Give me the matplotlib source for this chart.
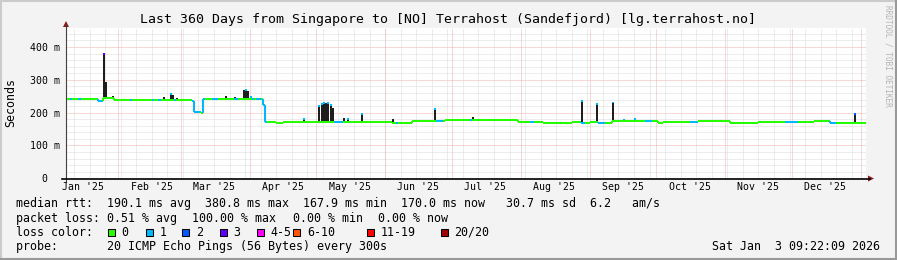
import matplotlib
matplotlib.use("Agg")
import matplotlib.pyplot as plt
import matplotlib.dates as mdates
import numpy as np
import pandas as pd
from matplotlib.lines import Line2D
from matplotlib.patches import Polygon, Rectangle

# median rtt (ms) as steps: each value holds from its date to the next one
med_dates = ["2025-01-08", "2025-01-10", "2025-01-11", "2025-01-14", "2025-01-15",
             "2025-01-23", "2025-01-25", "2025-01-30", "2025-02-06", "2025-02-07",
             "2025-02-16", "2025-02-17", "2025-02-19", "2025-02-20", "2025-02-26",
             "2025-02-27", "2025-03-05", "2025-03-06", "2025-03-07", "2025-03-10",
             "2025-03-11", "2025-03-12", "2025-03-15", "2025-03-18", "2025-03-25",
             "2025-03-27", "2025-04-02", "2025-04-03", "2025-04-04", "2025-04-06",
             "2025-04-07", "2025-04-08", "2025-04-09", "2025-04-13", "2025-04-16",
             "2025-05-01", "2025-05-09", "2025-05-13", "2025-06-04", "2025-06-06",
             "2025-06-07", "2025-06-13", "2025-06-24", "2025-06-27", "2025-06-28",
             "2025-07-09", "2025-07-10", "2025-07-31", "2025-08-05", "2025-08-07",
             "2025-08-11", "2025-08-24", "2025-08-28", "2025-08-30", "2025-09-01",
             "2025-09-05", "2025-09-08", "2025-09-11", "2025-09-26", "2025-09-29",
             "2025-10-02", "2025-10-04", "2025-10-16", "2025-10-20", "2025-11-03",
             "2025-11-16", "2025-11-28", "2025-12-04", "2025-12-11", "2025-12-18",
             "2025-12-21", "2025-12-25"]
med_ms = [243, 243, 243, 243, 243,
          236, 244, 240, 240, 240,
          240, 240, 240, 240, 240,
          240, 240, 236, 202, 200,
          241, 241, 241, 241, 241,
          241, 241, 241, 241, 241,
          222, 172, 172, 170, 173,
          173, 173, 173, 170, 170,
          170, 174, 174, 174, 177,
          177, 177, 173, 173, 173,
          170, 173, 170, 170, 173,
          170, 170, 176, 176, 176,
          170, 173, 172, 175, 170,
          171, 171, 171, 174, 170,
          170, 170]
med_loss = [0, 1, 0, 1, 0,
            1, 0, 0, 1, 0,
            1, 0, 1, 0, 1,
            0, 0, 1, 1, 0,
            1, 0, 1, 0, 1,
            0, 1, 0, 1, 0,
            1, 1, 0, 0, 0,
            0, 1, 0, 0, 1,
            0, 0, 1, 0, 0,
            1, 0, 0, 1, 0,
            0, 0, 1, 0, 0,
            1, 0, 0, 1, 0,
            0, 0, 1, 0, 0,
            0, 1, 0, 0, 1,
            0, 0]

# smoke spikes: date, max rtt (ms), loss bucket at the tip (-1 = none)
spike_dates = ["2025-01-25", "2025-01-26", "2025-01-29", "2025-02-21", "2025-02-24",
               "2025-02-25", "2025-02-27", "2025-03-21", "2025-03-25", "2025-03-29",
               "2025-03-30", "2025-03-31", "2025-04-01", "2025-04-25", "2025-05-02",
               "2025-05-03", "2025-05-04", "2025-05-05", "2025-05-06", "2025-05-07",
               "2025-05-08", "2025-05-13", "2025-05-15", "2025-05-21", "2025-06-04",
               "2025-06-13", "2025-06-23", "2025-07-10", "2025-08-28", "2025-09-04",
               "2025-09-11", "2025-09-16", "2025-09-21", "2025-12-11", "2025-12-29"]
spike_ms = [382, 292, 251, 249, 261,
            255, 246, 252, 248, 268,
            271, 266, 250, 184, 222,
            230, 233, 229, 233, 226,
            215, 185, 185, 198, 181,
            178, 213, 186, 240, 230,
            234, 180, 185, 178, 200]
spike_tip = [3, -1, -1, -1, 1,
             -1, -1, -1, -1, -1,
             1, -1, 1, 1, 1,
             1, 1, -1, 1, 1,
             -1, -1, 1, 1, -1,
             -1, 1, -1, 1, 1,
             1, 1, 1, -1, 2]

loss_labels = ["0", "1", "2", "3", "4-5", "6-10", "11-19", "20/20"]
loss_colors = ["#26ff00", "#00b8ff", "#0059ff", "#5e00ff", "#ff00ff", "#ff5500", "#ff0000", "#a10000"]

rtt_line = "median rtt:  190.1 ms avg  380.8 ms max  167.9 ms min  170.0 ms now   30.7 ms sd  6.2   am/s"
loss_parts = ["packet loss:", "0.51 % avg", "100.00 % max", "0.00 % min", "0.00 % now"]
probe_line = "probe:       20 ICMP Echo Pings (56 Bytes) every 300s"
title = "Last 360 Days from Singapore to [NO] Terrahost (Sandefjord) [lg.terrahost.no]"
stamp = "Sat Jan  3 09:22:09 2026"

W, H = 897, 260
MONO = "DejaVu Sans Mono"
t0 = pd.Timestamp("2025-01-08 09:22:09")
t1 = pd.Timestamp("2026-01-03 09:22:09")

fig = plt.figure(figsize=(W / 100, H / 100), dpi=100)
fig.patch.set_facecolor("#f3f3f3")

# plot area in pixels: x 66..866, y 28..178
L, R, T, B = 66, 866, 28, 178.3
ax = fig.add_axes([L / W, 1 - B / H, (R - L) / W, (B - T) / H])
ax.set_facecolor("white")
for s in ax.spines.values():
    s.set_visible(False)
ax.set_xlim(mdates.date2num(t0), mdates.date2num(t1))
ax.set_ylim(0, 458)
ax.set_xticks([])
ax.set_yticks([])

# grid: minor every 20 ms / every Sunday, major every 100 ms / every month
GMIN, GMAJ = "#dadada", "#f5b0b0"
for v in range(20, 460, 20):
    ax.axhline(v, color=GMAJ if v % 100 == 0 else GMIN, lw=0.72, ls=(0, (1, 1)), zorder=1)
for d in pd.date_range("2025-01-12", t1, freq="7D"):
    ax.axvline(mdates.date2num(d), color=GMIN, lw=0.72, ls=(0, (1, 1)), zorder=1)
for d in pd.date_range("2025-02-01", t1, freq="MS"):
    ax.axvline(mdates.date2num(d), color=GMAJ, lw=0.72, ls=(0, (1, 1)), zorder=1)

# smoke
md = mdates.date2num(pd.to_datetime(med_dates))
md[0] = mdates.date2num(t0)
sd = mdates.date2num(pd.to_datetime(spike_dates))
base = np.array(med_ms)[np.searchsorted(md, sd, side="right") - 1]
ax.bar(sd, np.array(spike_ms) - base, bottom=base, width=0.9, color="#1e1e1e",
       align="edge", zorder=3)
for x, top, tip in zip(sd, spike_ms, spike_tip):
    if tip >= 0:
        ax.plot([x + 0.45, x + 0.45], [top - 6, top], color=loss_colors[tip],
                lw=1.5, solid_capstyle="butt", zorder=4)

# median line coloured by loss
xe = list(md) + [mdates.date2num(t1)]
for i, (v, lo) in enumerate(zip(med_ms, med_loss)):
    c = loss_colors[lo]
    ax.plot([xe[i], xe[i + 1]], [v, v], color=c, lw=1.45, solid_capstyle="butt", zorder=5)
    if i > 0 and med_ms[i - 1] != v:
        ax.plot([xe[i], xe[i]], [med_ms[i - 1], v], color=c, lw=1.45,
                solid_capstyle="butt", zorder=5)


def px(x, y):
    return x / W, 1 - y / H


# axis lines with arrows
fig.add_artist(Line2D(*zip(px(66, 182), px(66, 24)), color="#404040", lw=0.8))
fig.add_artist(Line2D(*zip(px(62, 178.5), px(870, 178.5)), color="black", lw=1.2))
fig.add_artist(Polygon([px(63, 27), px(69, 27), px(66, 21)], closed=True,
                       color="#8b1a1a", lw=0))
fig.add_artist(Polygon([px(868, 175.5), px(868, 181.5), px(874, 178.5)], closed=True,
                       color="#8b1a1a", lw=0))

# tick labels
for v in range(0, 401, 100):
    lab = f"{v} m" if v else "0  "
    y = B - v / 458 * (B - T)
    fig.text(*px(60, y), lab, family=MONO, size=7.1, ha="right", va="center_baseline")
span = mdates.date2num(t1) - mdates.date2num(t0)
for m in pd.date_range("2025-01-01", "2025-12-01", freq="MS"):
    d = m + pd.Timedelta(days=15)
    xf = (mdates.date2num(d) - mdates.date2num(t0)) / span
    fig.text(*px(L + xf * (R - L), 190.5), d.strftime("%b '%y"), family=MONO,
             size=7.1, ha="center", va="baseline")

fig.text(*px(10.5, 103), "Seconds", family=MONO, size=8.4, rotation=90,
         ha="center", va="center")
fig.text(*px(448, 19.5), title, family=MONO, size=9.5, ha="center", va="center")
fig.text(*px(888, 5), "RRDTOOL / TOBI OETIKER", family=MONO, size=5.6, color="#b4b4b4",
         rotation=270, ha="center", va="top")

# legend rows
fig.text(*px(16, 207.5), rtt_line, family=MONO, size=8.4, ha="left", va="baseline")
for s, x in zip(loss_parts, [16, 106.5, 192, 292.5, 378.5]):
    fig.text(*px(x, 221.6), s, family=MONO, size=8.4, ha="left", va="baseline")
fig.text(*px(16, 235.8), "loss color:", family=MONO, size=8.4, ha="left", va="baseline")
box_x = [107.3, 145, 181.7, 219, 256, 292.7, 366.7, 440]
for bx, lab, c in zip(box_x, loss_labels, loss_colors):
    fig.add_artist(Rectangle(px(bx + 0.5, 236), 7.2 / W, 7.2 / H, facecolor=c,
                             edgecolor="black", lw=0.75))
    fig.text(*px(bx + 14.3, 235.8), lab, family=MONO, size=8.4, ha="left", va="baseline")
fig.text(*px(16, 249.6), probe_line, family=MONO, size=8.4, ha="left", va="baseline")
fig.text(*px(880, 249.6), stamp, family=MONO, size=8.4, ha="right", va="baseline")

# 3-d frame of the rrdtool canvas
fig.add_artist(Line2D(*zip(px(0, 1), px(W, 1)), color="#cbcbcb", lw=1.5))
fig.add_artist(Line2D(*zip(px(1, 0), px(1, H)), color="#cbcbcb", lw=1.5))
fig.add_artist(Line2D(*zip(px(0, H - 1), px(W, H - 1)), color="#999999", lw=1.5))
fig.add_artist(Line2D(*zip(px(W - 1, 0), px(W - 1, H)), color="#999999", lw=1.5))

fig.savefig("out.png", dpi=100, facecolor=fig.get_facecolor())
